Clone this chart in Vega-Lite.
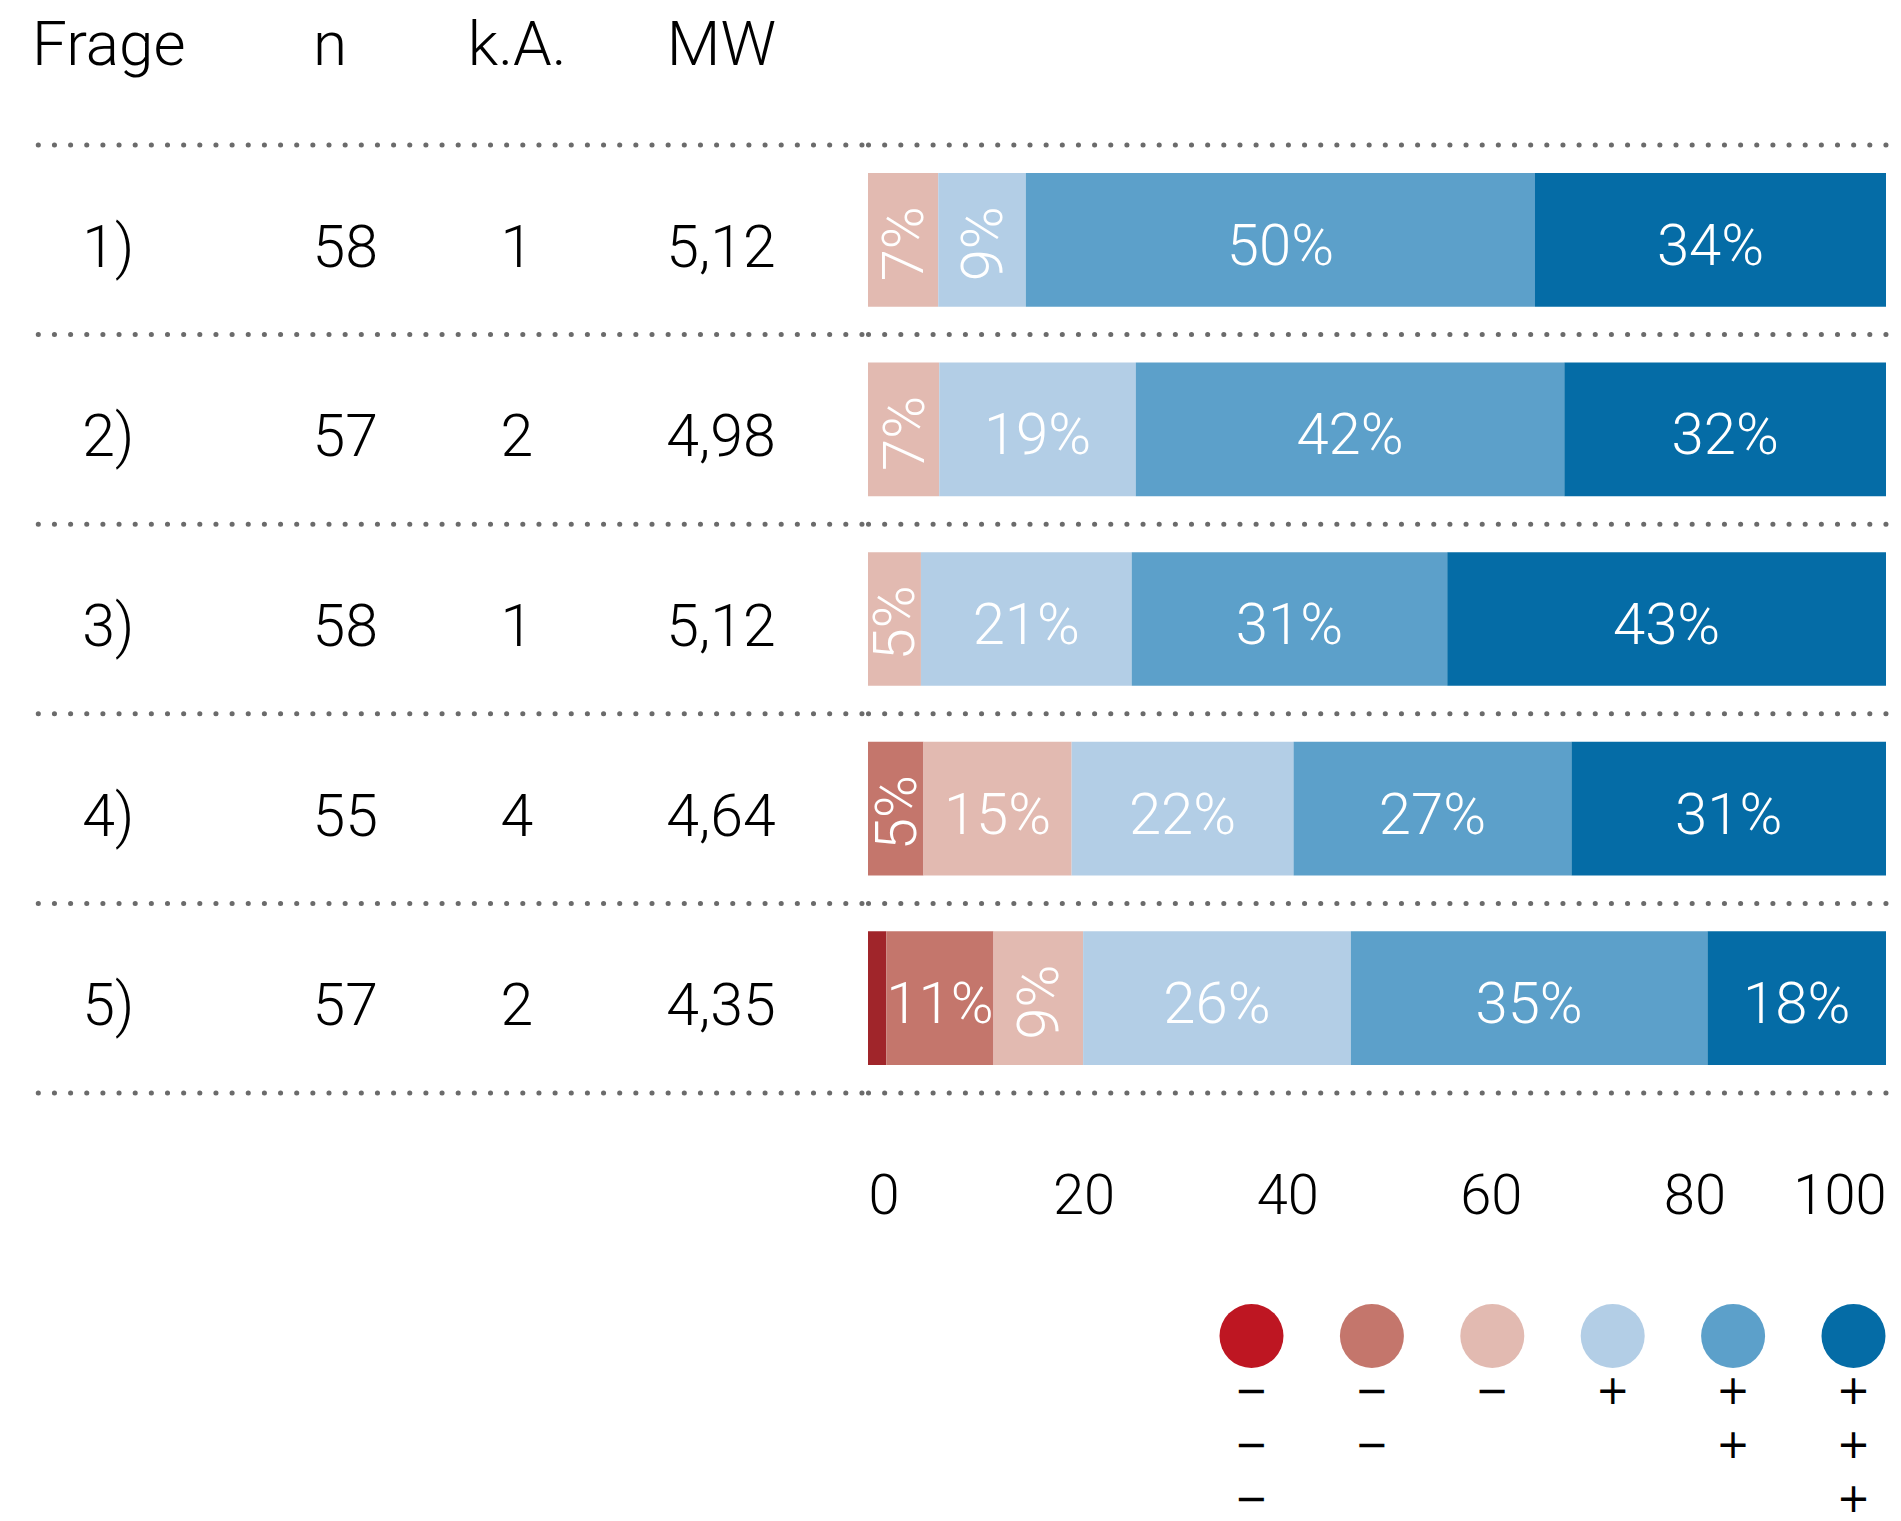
{
  "$schema": "https://vega.github.io/schema/vega-lite/v6.json",
  "background": "white",
  "padding": {"left": 27, "top": 14, "right": 16, "bottom": 4},
  "config": {
    "view": {"stroke": null},
    "font": "Roboto",
    "text": {"font": "Roboto", "fontWeight": 300},
    "axis": {"labelFont": "Roboto", "labelFontWeight": 300, "labelColor": "black", "grid": false}
  },
  "datasets": {
    "table": [
      {"frage": "1)", "n": "58", "ka": "1", "mw": "5,12"},
      {"frage": "2)", "n": "57", "ka": "2", "mw": "4,98"},
      {"frage": "3)", "n": "58", "ka": "1", "mw": "5,12"},
      {"frage": "4)", "n": "55", "ka": "4", "mw": "4,64"},
      {"frage": "5)", "n": "57", "ka": "2", "mw": "4,35"}
    ],
    "bars": [
      {"frage": "1)", "cat": "m1", "pct": 6.9},
      {"frage": "1)", "cat": "p1", "pct": 8.6},
      {"frage": "1)", "cat": "p2", "pct": 50.02},
      {"frage": "1)", "cat": "p3", "pct": 34.48},
      {"frage": "2)", "cat": "m1", "pct": 7.0},
      {"frage": "2)", "cat": "p1", "pct": 19.3},
      {"frage": "2)", "cat": "p2", "pct": 42.1},
      {"frage": "2)", "cat": "p3", "pct": 31.6},
      {"frage": "3)", "cat": "m1", "pct": 5.2},
      {"frage": "3)", "cat": "p1", "pct": 20.7},
      {"frage": "3)", "cat": "p2", "pct": 31.0},
      {"frage": "3)", "cat": "p3", "pct": 43.1},
      {"frage": "4)", "cat": "m2", "pct": 5.45},
      {"frage": "4)", "cat": "m1", "pct": 14.55},
      {"frage": "4)", "cat": "p1", "pct": 21.8},
      {"frage": "4)", "cat": "p2", "pct": 27.3},
      {"frage": "4)", "cat": "p3", "pct": 30.9},
      {"frage": "5)", "cat": "m3", "pct": 1.8},
      {"frage": "5)", "cat": "m2", "pct": 10.53},
      {"frage": "5)", "cat": "m1", "pct": 8.8},
      {"frage": "5)", "cat": "p1", "pct": 26.3},
      {"frage": "5)", "cat": "p2", "pct": 35.03},
      {"frage": "5)", "cat": "p3", "pct": 17.54}
    ],
    "cats": [
      {"cat": "m3"}, {"cat": "m2"}, {"cat": "m1"}, {"cat": "p1"}, {"cat": "p2"}, {"cat": "p3"}
    ],
    "signs": [
      {"cat": "m3", "line": "1", "sign": "−"},
      {"cat": "m3", "line": "2", "sign": "−"},
      {"cat": "m3", "line": "3", "sign": "−"},
      {"cat": "m2", "line": "1", "sign": "−"},
      {"cat": "m2", "line": "2", "sign": "−"},
      {"cat": "m1", "line": "1", "sign": "−"},
      {"cat": "p1", "line": "1", "sign": "+"},
      {"cat": "p2", "line": "1", "sign": "+"},
      {"cat": "p2", "line": "2", "sign": "+"},
      {"cat": "p3", "line": "1", "sign": "+"},
      {"cat": "p3", "line": "2", "sign": "+"},
      {"cat": "p3", "line": "3", "sign": "+"}
    ]
  },
  "spacing": 0,
  "hconcat": [
    {
      "width": 832,
      "height": 948,
      "data": {"name": "table"},
      "transform": [{"fold": ["frage", "n", "ka", "mw"], "as": ["col", "val"]}],
      "encoding": {
        "x": {
          "field": "col", "type": "nominal", "sort": ["frage", "n", "ka", "mw"],
          "scale": {"type": "point", "padding": 0.537, "align": 0.357},
          "axis": {
            "orient": "top", "title": null, "ticks": false, "tickSize": 0, "domain": false,
            "labelAngle": 0, "labelFontSize": 62, "labelPadding": 81, "labelBaseline": "alphabetic",
            "labelOverlap": false, "labelBound": false,
            "labelAlign": {"condition": {"test": "datum.value === 'n'", "value": "left"}, "value": "center"},
            "labelExpr": "{'frage': 'Frage', 'n': 'n', 'ka': 'k.A.', 'mw': 'MW'}[datum.value]"
          }
        },
        "y": {"field": "frage", "type": "nominal", "scale": {"paddingInner": 0, "paddingOuter": 0}, "axis": null}
      },
      "layer": [
        {
          "transform": [{"filter": "datum.col !== 'n'"}],
          "mark": {"type": "text", "fontSize": 59, "baseline": "middle", "align": "center", "dy": 9, "color": "black"},
          "encoding": {"text": {"field": "val"}}
        },
        {
          "transform": [{"filter": "datum.col === 'n'"}],
          "mark": {"type": "text", "fontSize": 59, "baseline": "middle", "align": "left", "dy": 9, "color": "black"},
          "encoding": {"text": {"field": "val"}}
        },
        {
          "transform": [{"filter": "datum.col === 'frage'"}],
          "mark": {"type": "rule", "strokeDash": [0.1, 16.05], "strokeCap": "round", "strokeWidth": 5, "color": "#6b6b6b"},
          "encoding": {"x": null, "y": {"field": "frage", "type": "nominal", "bandPosition": 0}}
        },
        {
          "transform": [{"filter": "datum.col === 'frage' && datum.frage === '5)'"}],
          "mark": {"type": "rule", "strokeDash": [0.1, 16.05], "strokeCap": "round", "strokeWidth": 5, "color": "#6b6b6b"},
          "encoding": {"x": null, "y": {"field": "frage", "type": "nominal", "bandPosition": 1}}
        }
      ]
    },
    {
      "spacing": 80,
      "resolve": {"scale": {"color": "independent"}},
      "vconcat": [
        {
          "width": 1018,
          "height": 948,
          "data": {"name": "bars"},
          "transform": [
            {"calculate": "indexof(['m3','m2','m1','p1','p2','p3'], datum.cat)", "as": "ord"},
            {"stack": "pct", "groupby": ["frage"], "sort": [{"field": "ord", "order": "ascending"}], "as": ["x0", "x1"]},
            {"calculate": "(datum.x0 + datum.x1) / 2", "as": "mid"},
            {"calculate": "format(datum.pct, '.0f') + '%'", "as": "label"}
          ],
          "layer": [
            {
              "mark": {"type": "bar", "height": {"band": 0.705}},
              "encoding": {
                "y": {"field": "frage", "type": "nominal", "scale": {"paddingInner": 0, "paddingOuter": 0}, "axis": null},
                "x": {
                  "field": "x0", "type": "quantitative",
                  "scale": {"domain": [0, 100], "nice": false},
                  "axis": {
                    "title": null, "values": [0, 20, 40, 60, 80, 100], "ticks": false, "tickSize": 0, "domain": false,
                    "labelFontSize": 56, "labelPadding": 120, "labelBaseline": "alphabetic", "labelFlush": true,
                    "labelOverlap": false,
                    "labelOffset": {"condition": {"test": "datum.value > 0 && datum.value < 100", "value": 12}, "value": 0}
                  }
                },
                "x2": {"field": "x1"},
                "color": {
                  "field": "cat", "type": "nominal",
                  "scale": {"domain": ["m3", "m2", "m1", "p1", "p2", "p3"], "range": ["#a0252a", "#c4766c", "#e2bab1", "#b3cee6", "#5ca0ca", "#056ca6"]},
                  "legend": null
                }
              }
            },
            {
              "transform": [{"filter": "datum.pct >= 10"}],
              "mark": {"type": "text", "fontSize": 58, "color": "white", "baseline": "middle", "dy": 8},
              "encoding": {
                "x": {"field": "mid", "type": "quantitative"},
                "y": {"field": "frage", "type": "nominal"},
                "text": {"field": "label"}
              }
            },
            {
              "transform": [{"filter": "datum.pct >= 3 && datum.pct < 10"}],
              "mark": {"type": "text", "fontSize": 58, "color": "white", "baseline": "middle", "angle": 270, "dy": 3, "dx": -4},
              "encoding": {
                "x": {"field": "mid", "type": "quantitative"},
                "y": {"field": "frage", "type": "nominal"},
                "text": {"field": "label"}
              }
            },
            {
              "transform": [{"aggregate": [{"op": "count", "as": "c"}], "groupby": ["frage"]}],
              "mark": {"type": "rule", "strokeDash": [0.1, 16.05], "strokeCap": "round", "strokeWidth": 5, "color": "#6b6b6b"},
              "encoding": {"y": {"field": "frage", "type": "nominal", "bandPosition": 0}}
            },
            {
              "transform": [{"aggregate": [{"op": "count", "as": "c"}], "groupby": ["frage"]}, {"filter": "datum.frage === '5)'"}],
              "mark": {"type": "rule", "strokeDash": [0.1, 16.05], "strokeCap": "round", "strokeWidth": 5, "color": "#6b6b6b"},
              "encoding": {"y": {"field": "frage", "type": "nominal", "bandPosition": 1}}
            }
          ]
        },
        {
          "spacing": 0,
          "hconcat": [
            {
              "width": 351,
              "height": 162,
              "data": {"values": [{"t": ""}]},
              "mark": {"type": "text"},
              "encoding": {"text": {"field": "t"}}
            },
            {
              "width": 667,
              "height": 162,
              "encoding": {
                "x": {"field": "cat", "type": "nominal", "sort": ["m3", "m2", "m1", "p1", "p2", "p3"], "scale": {"type": "point", "padding": 0.27, "align": 0.5}, "axis": null}
              },
              "layer": [
                {
                  "data": {"name": "cats"},
                  "mark": {"type": "circle", "size": 4096, "opacity": 1},
                  "encoding": {
                    "y": {"datum": "0", "type": "ordinal", "scale": {"type": "point", "domain": ["0", "1", "2", "3"], "padding": 0}, "axis": null},
                    "color": {
                      "field": "cat", "type": "nominal",
                      "scale": {"domain": ["m3", "m2", "m1", "p1", "p2", "p3"], "range": ["#be1622", "#c4766c", "#e2bab1", "#b3cee6", "#5ca0ca", "#056ca6"]},
                      "legend": null
                    }
                  }
                },
                {
                  "data": {"name": "signs"},
                  "mark": {"type": "text", "font": "DejaVu Sans", "fontWeight": "normal", "fontSize": 40, "baseline": "middle", "dy": 2, "color": "black"},
                  "encoding": {
                    "y": {"field": "line", "type": "ordinal"},
                    "text": {"field": "sign"}
                  }
                }
              ]
            }
          ]
        }
      ]
    }
  ]
}
